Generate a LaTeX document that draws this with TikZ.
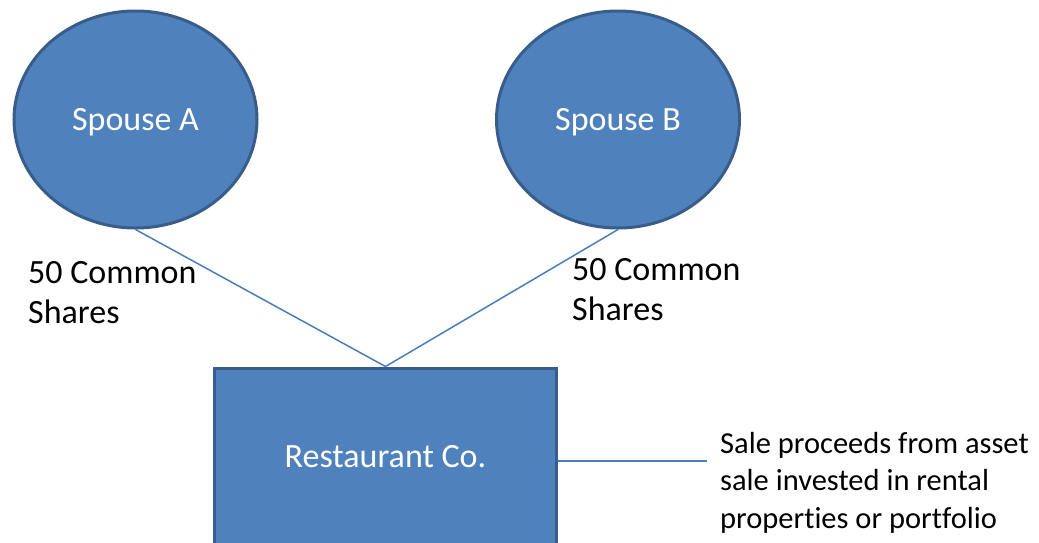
\documentclass[tikz,border=0pt]{standalone}
\usepackage{fontspec}
\setmainfont{Carlito}[Ligatures=NoCommon]
\usetikzlibrary{shapes.geometric}
\definecolor{boxfill}{HTML}{4F81BD}
\definecolor{boxedge}{HTML}{385D8A}
\definecolor{linkcol}{HTML}{4A7EBB}
\begin{document}
\begin{tikzpicture}[x=1pt,y=-1pt,
  owner/.style={ellipse, fill=boxfill, draw=boxedge, line width=3pt,
    minimum width=243pt, minimum height=217pt, inner sep=0pt, text=white,
    font=\fontsize{34}{40}\selectfont, text height=22pt, text depth=0pt},
  company/.style={rectangle, fill=boxfill, draw=boxedge, line width=3pt,
    minimum width=342pt, minimum height=186pt, inner sep=0pt, text=white,
    font=\fontsize{34}{40}\selectfont, text height=20pt, text depth=8pt},
  link/.style={draw=linkcol, line width=1.5pt},
  share/.style={anchor=base west, align=left, inner sep=0pt,
    font=\fontsize{34}{40}\selectfont},
  note/.style={anchor=base west, align=left, inner sep=0pt,
    font=\fontsize{30.5}{37.5}\selectfont}]
\useasboundingbox (0,0) rectangle (1039,542);

% shareholders and the company
\node[owner] (A) at (135.5,119.5) {Spouse A};
\node[owner] (B) at (618,119.5) {Spouse B};
\node[company] (R) at (385.5,461) {Restaurant Co.};

% ownership links
\draw[link] (A.south) -- (R.north);
\draw[link] (B.south) -- (R.north);

% share labels (anchored on the baseline of the last line)
\node[share] (sa) at (28,323) {50 Common\\Shares};
\node[share] (sb) at (572,320) {50 Common\\Shares};

% note on the sale proceeds
\coordinate (tip) at (707,461);
\draw[link] (R.east) -- (tip);
\node[note] (n) at (720,528) {Sale proceeds from asset\\sale invested in rental\\properties or portfolio};
\end{tikzpicture}
\end{document}
